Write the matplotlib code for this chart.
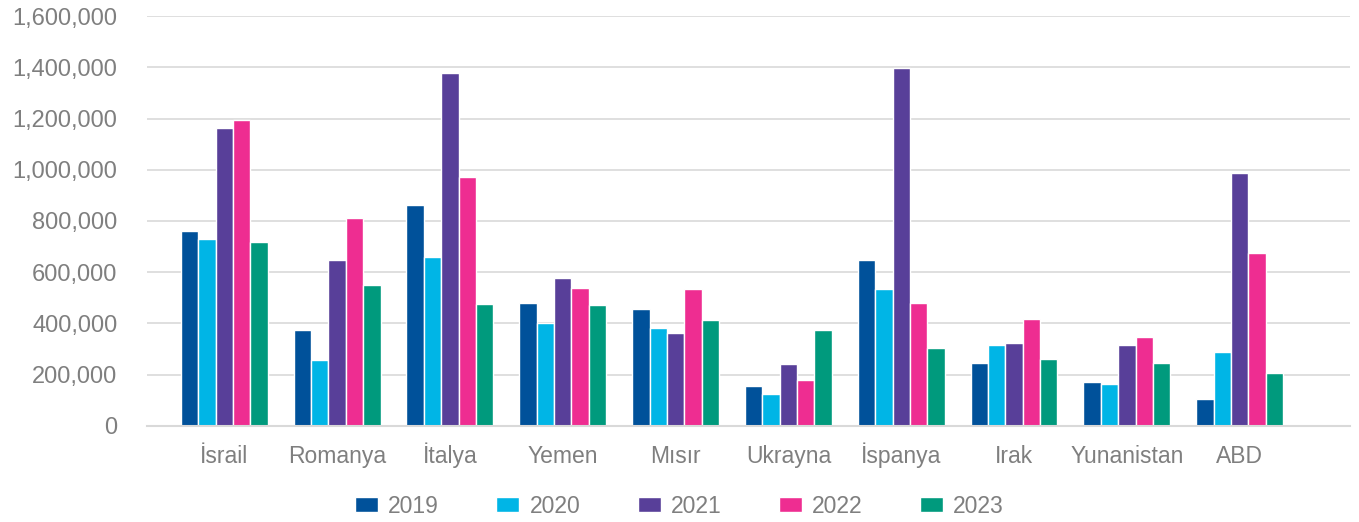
import matplotlib.pyplot as plt
import numpy as np

plt.rcParams['font.family'] = ['Liberation Sans', 'DejaVu Sans']

# Countries and yearly values
countries = ["İsrail", "Romanya", "İtalya", "Yemen", "Mısır", "Ukrayna",
             "İspanya", "Irak", "Yunanistan", "ABD"]
years = ["2019", "2020", "2021", "2022", "2023"]

v2019 = [761000, 375000, 862000, 480000, 457000, 156000, 648000, 246000, 172000, 105000]
v2020 = [728000, 258000, 660000, 402000, 382000, 125000, 535000, 316000, 164000, 289000]
v2021 = [1163000, 648000, 1378000, 578000, 363000, 242000, 1397000, 324000, 316000, 987000]
v2022 = [1194000, 812000, 972000, 539000, 535000, 180000, 480000, 418000, 347000, 675000]
v2023 = [718000, 550000, 476000, 472000, 414000, 375000, 304000, 261000, 246000, 207000]

series = [v2019, v2020, v2021, v2022, v2023]
colors = ["#00519a", "#00b5e6", "#583f99", "#ee2d91", "#009a7d"]

fig = plt.figure(figsize=(13.59, 5.22), dpi=100)
ax = fig.add_axes([0.108, 0.184, 0.8854, 0.7853])

x = np.arange(len(countries))
step = 0.154
for i, (vals, c, yr) in enumerate(zip(series, colors, years)):
    ax.bar(x + (i - 2) * step, vals, width=step, color=c, edgecolor="white",
           linewidth=1.0, label=yr, zorder=3)

ax.set_xlim(-0.687, 9.978)
ax.set_ylim(0, 1600000)
ax.set_yticks(np.arange(0, 1600001, 200000))
ax.yaxis.set_major_formatter(plt.FuncFormatter(lambda v, p: f"{int(v):,}"))
ax.set_xticks(x)
ax.set_xticklabels(countries, va="baseline")

ax.grid(axis="y", color="#d9d9d9", linewidth=1.2, zorder=0)
for s in ["top", "right", "left"]:
    ax.spines[s].set_visible(False)
ax.spines["bottom"].set_color("#d9d9d9")
ax.spines["bottom"].set_linewidth(1.5)
ax.spines["bottom"].set_zorder(4)

ax.tick_params(axis="y", length=0, pad=21, labelsize=17, labelcolor="#7f7f7f")
ax.tick_params(axis="x", length=0, pad=27, labelsize=16.5, labelcolor="#7f7f7f")

fig.legend(loc="center", bbox_to_anchor=(0.5, 0.030), ncol=5, frameon=False,
           fontsize=16.5, labelcolor="#7f7f7f", handlelength=1.0,
           handleheight=0.65, handletextpad=0.45, columnspacing=2.5)

fig.savefig("out.png", dpi=100)
